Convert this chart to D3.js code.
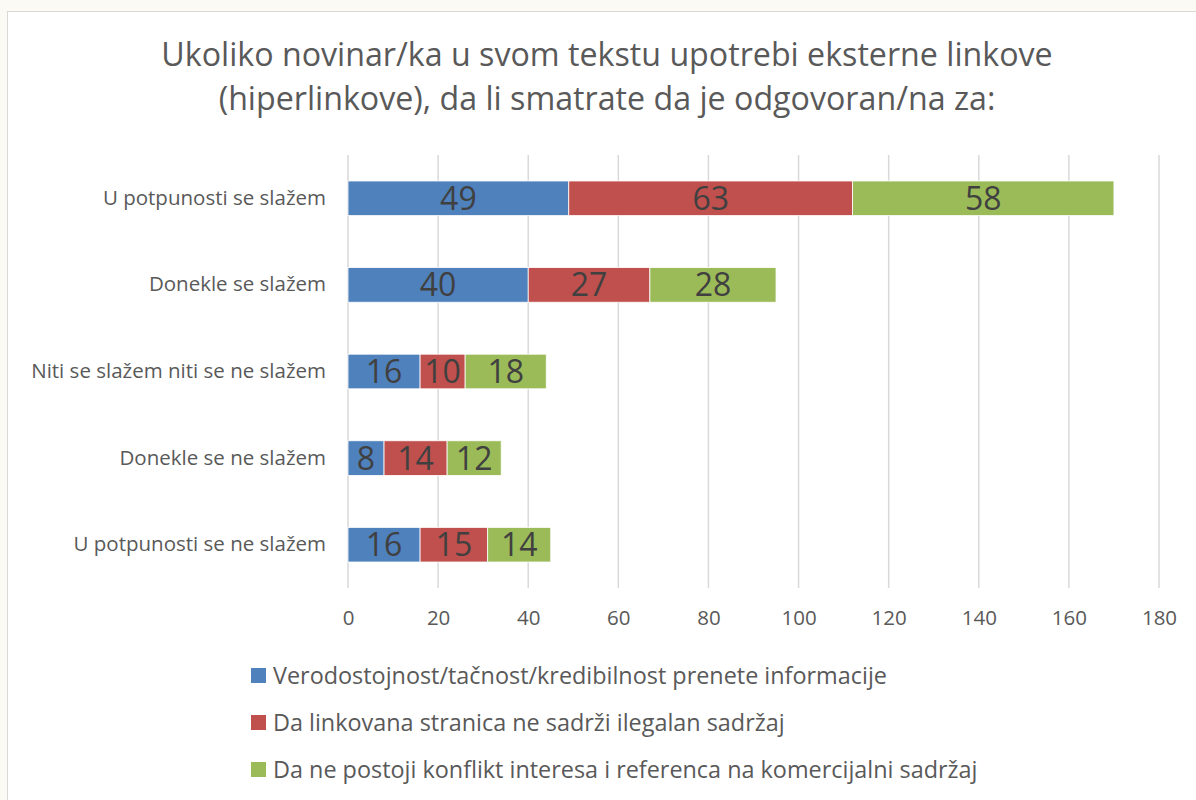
<!DOCTYPE html>
<html>
<head>
<meta charset="utf-8">
<script src="https://cdn.jsdelivr.net/npm/d3@7"></script>
<style>
  body { margin: 0; background: #fcfaf5; }
  text { font-family: "Open Sans", "Noto Sans", sans-serif; }
</style>
</head>
<body>
<script>
var w = 1196, h = 800;

// data
var categories = ['U potpunosti se slažem', 'Donekle se slažem', 'Niti se slažem niti se ne slažem',
                  'Donekle se ne slažem', 'U potpunosti se ne slažem'];
var seriesNames = ['Verodostojnost/tačnost/kredibilnost prenete informacije',
                   'Da linkovana stranica ne sadrži ilegalan sadržaj',
                   'Da ne postoji konflikt interesa i referenca na komercijalni sadržaj'];
var verodostojnost = [49, 40, 16, 8, 16];
var ilegalan = [63, 27, 10, 14, 15];
var konflikt = [58, 28, 18, 12, 14];
var xTicks = [0, 20, 40, 60, 80, 100, 120, 140, 160, 180];
var colors = ['#4f81bd', '#c0504d', '#9bbb59'];
var titleLines = ['Ukoliko novinar/ka u svom tekstu upotrebi eksterne linkove',
                  '(hiperlinkove), da li smatrate da je odgovoran/na za:'];

var rows = categories.map(function(c, i) {
  return { cat: c, s0: verodostojnost[i], s1: ilegalan[i], s2: konflikt[i] };
});
var stack = d3.stack().keys(['s0', 's1', 's2'])(rows);

var svg = d3.select('body').append('svg')
    .attr('width', w)
    .attr('height', h);

// chart area
svg.append('rect')
    .attr('x', 7.5).attr('y', 11.5)
    .attr('width', w).attr('height', h)
    .attr('fill', '#fff')
    .attr('stroke', '#d9d9d9');

var x = d3.scaleLinear().domain([0, 180]).range([348, 1159]);
var y = d3.scaleBand().domain(categories).range([155, 588]).paddingInner(0.6).paddingOuter(0.3);

// title
svg.append('g').selectAll('text')
    .data(titleLines)
    .enter().append('text')
    .attr('x', 607)
    .attr('y', function(d, i) { return 66 + i * 44; })
    .attr('text-anchor', 'middle')
    .attr('font-size', 32.2)
    .attr('fill', '#595959')
    .text(function(d) { return d; });

// gridlines
svg.append('g').selectAll('line')
    .data(xTicks)
    .enter().append('line')
    .attr('x1', function(d) { return x(d); })
    .attr('x2', function(d) { return x(d); })
    .attr('y1', 155).attr('y2', 588)
    .attr('stroke', '#d9d9d9')
    .attr('stroke-width', 1.5);

// x axis labels
var xAxis = svg.append('g')
    .attr('transform', 'translate(0,588)')
    .call(d3.axisBottom(x).tickValues(xTicks).tickSize(0).tickPadding(22));
xAxis.select('.domain').remove();
xAxis.selectAll('text').attr('font-size', 20.5).attr('fill', '#595959').attr('font-family', '"Open Sans", sans-serif');

// y axis labels
var yAxis = svg.append('g')
    .attr('transform', 'translate(348,0)')
    .call(d3.axisLeft(y).tickSize(0).tickPadding(22));
yAxis.select('.domain').remove();
yAxis.selectAll('text').attr('font-size', 20.5).attr('fill', '#595959').attr('font-family', '"Open Sans", sans-serif');

// bars
var layers = svg.append('g').selectAll('g')
    .data(stack)
    .enter().append('g')
    .attr('fill', function(d, i) { return colors[i]; });

layers.selectAll('rect')
    .data(function(d) { return d; })
    .enter().append('rect')
    .attr('x', function(d) { return x(d[0]); })
    .attr('y', function(d) { return y(d.data.cat); })
    .attr('width', function(d) { return x(d[1]) - x(d[0]); })
    .attr('height', y.bandwidth())
    .attr('stroke', '#fff')
    .attr('stroke-width', 0.8);

layers.selectAll('text')
    .data(function(d) { return d; })
    .enter().append('text')
    .attr('x', function(d) { return (x(d[0]) + x(d[1])) / 2; })
    .attr('y', function(d) { return y(d.data.cat) + y.bandwidth() / 2; })
    .attr('dy', '0.36em')
    .attr('text-anchor', 'middle')
    .attr('font-size', 32)
    .attr('fill', '#404040')
    .text(function(d) { return d[1] - d[0]; });

// legend
var legend = svg.append('g').selectAll('g')
    .data(seriesNames)
    .enter().append('g')
    .attr('transform', function(d, i) { return 'translate(251,' + (668 + i * 47) + ')'; });
legend.append('rect')
    .attr('width', 15).attr('height', 15)
    .attr('fill', function(d, i) { return colors[i]; });
legend.append('text')
    .attr('x', 22).attr('y', 8)
    .attr('dy', '0.36em')
    .attr('font-size', 23.4)
    .attr('fill', '#595959')
    .text(function(d) { return d; });
</script>
</body>
</html>
